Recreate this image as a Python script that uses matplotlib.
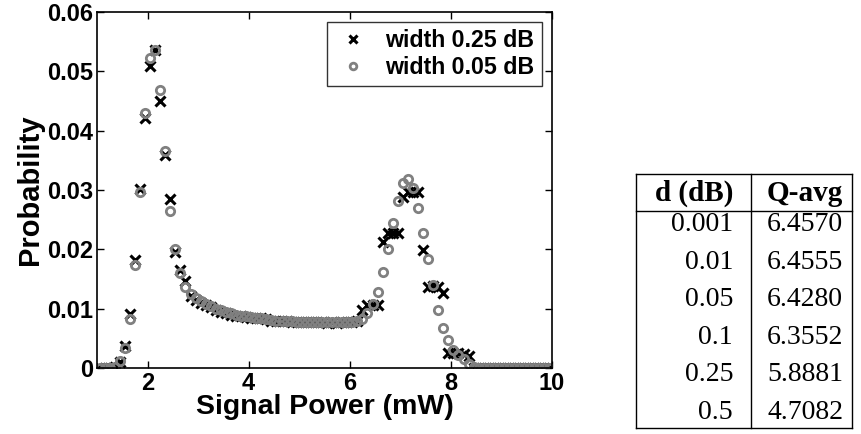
import matplotlib
matplotlib.use('Agg')
import matplotlib.pyplot as plt

# bin centres (mW)
power = [1.05, 1.15, 1.25, 1.35, 1.45, 1.55, 1.65, 1.75, 1.85, 1.95,
         2.05, 2.15, 2.25, 2.35, 2.45, 2.55, 2.65, 2.75, 2.85, 2.95,
         3.05, 3.15, 3.25, 3.35, 3.45, 3.55, 3.65, 3.75, 3.85, 3.95,
         4.05, 4.15, 4.25, 4.35, 4.45, 4.55, 4.65, 4.75, 4.85, 4.95,
         5.05, 5.15, 5.25, 5.35, 5.45, 5.55, 5.65, 5.75, 5.85, 5.95,
         6.05, 6.15, 6.25, 6.35, 6.45, 6.55, 6.65, 6.75, 6.85, 6.95,
         7.05, 7.15, 7.25, 7.35, 7.45, 7.55, 7.65, 7.75, 7.85, 7.95,
         8.05, 8.15, 8.25, 8.35, 8.45, 8.55, 8.65, 8.75, 8.85, 8.95,
         9.05, 9.15, 9.25, 9.35, 9.45, 9.55, 9.65, 9.75, 9.85, 9.95]

# width 0.25 dB
prob_wide = [0.0, 0.0, 0.0, 0.0002, 0.0010, 0.0037, 0.0091, 0.0182, 0.0301, 0.0421,
             0.0509, 0.0536, 0.0450, 0.0359, 0.0284, 0.0195, 0.0165, 0.0146, 0.0121, 0.0115,
             0.0110, 0.0106, 0.0102, 0.0098, 0.0095, 0.0092, 0.0090, 0.0088, 0.0087, 0.0086,
             0.0085, 0.0085, 0.0084, 0.0082, 0.0080, 0.0080, 0.0079, 0.0079, 0.0078, 0.0077,
             0.0077, 0.0077, 0.0077, 0.0077, 0.0077, 0.0076, 0.0077, 0.0076, 0.0077, 0.0077,
             0.0078, 0.0079, 0.0098, 0.0107, 0.0107, 0.0107, 0.0213, 0.0227, 0.0227, 0.0227,
             0.0289, 0.0297, 0.0297, 0.0297, 0.0199, 0.0137, 0.0138, 0.0137, 0.0127, 0.0025,
             0.0025, 0.0025, 0.0024, 0.0020, 0.0, 0.0, 0.0, 0.0, 0.0, 0.0,
             0.0, 0.0, 0.0, 0.0, 0.0, 0.0, 0.0, 0.0, 0.0, 0.0]

# width 0.05 dB
prob_narrow = [0.0, 0.0, 0.0, 0.0002, 0.0011, 0.0033, 0.0082, 0.0174, 0.0297, 0.0429,
               0.0522, 0.0536, 0.0468, 0.0366, 0.0265, 0.0200, 0.0160, 0.0136, 0.0125, 0.0118,
               0.0113, 0.0108, 0.0104, 0.0100, 0.0097, 0.0094, 0.0092, 0.0090, 0.0088, 0.0087,
               0.0086, 0.0085, 0.0084, 0.0083, 0.0081, 0.0080, 0.0080, 0.0079, 0.0079, 0.0078,
               0.0078, 0.0077, 0.0077, 0.0077, 0.0077, 0.0077, 0.0077, 0.0077, 0.0077, 0.0077,
               0.0078, 0.0079, 0.0082, 0.0092, 0.0108, 0.0128, 0.0161, 0.0201, 0.0245, 0.0281,
               0.0312, 0.0319, 0.0304, 0.0270, 0.0228, 0.0183, 0.0140, 0.0098, 0.0068, 0.0047,
               0.0030, 0.0022, 0.0015, 0.0006, 0.0001, 0.0, 0.0, 0.0, 0.0, 0.0,
               0.0, 0.0, 0.0, 0.0, 0.0, 0.0, 0.0, 0.0, 0.0, 0.0]

x_ticks = [2, 4, 6, 8, 10]
y_ticks = [0, 0.01, 0.02, 0.03, 0.04, 0.05, 0.06]
y_labels = ['0', '0.01', '0.02', '0.03', '0.04', '0.05', '0.06']

# table next to the plot
table_header = ['d (dB)', 'Q-avg']
d_values = ['0.001', '0.01', '0.05', '0.1', '0.25', '0.5']
q_avg = ['6.4570', '6.4555', '6.4280', '6.3552', '5.8881', '4.7082']

plt.rcParams['font.family'] = ['Liberation Sans', 'DejaVu Sans']
plt.rcParams['font.weight'] = 'bold'

fig = plt.figure(figsize=(8.61, 4.34), dpi=100)
W, H = 861.0, 434.0
ax = fig.add_axes([97 / W, 1 - 368 / H, (552 - 97) / W, (368 - 12) / H])

ax.plot(power, prob_wide, linestyle='none', marker='x', color='black',
        markersize=7, markeredgewidth=2.2, label='width 0.25 dB')
ax.plot(power, prob_narrow, linestyle='none', marker='o', markerfacecolor='none',
        markeredgecolor='#808080', markersize=6, markeredgewidth=2.0,
        label='width 0.05 dB')

ax.set_xlim(1, 10)
ax.set_ylim(0, 0.06)
ax.set_xticks(x_ticks)
ax.set_xticklabels([str(t) for t in x_ticks])
ax.set_yticks(y_ticks)
ax.set_yticklabels(y_labels)
ax.tick_params(direction='in', top=True, right=True, length=5, width=1,
               labelsize=17, pad=3)
for lab in ax.get_xticklabels() + ax.get_yticklabels():
    lab.set_fontweight('bold')
for s in ax.spines.values():
    s.set_linewidth(1.2)

ax.set_xlabel('Signal Power (mW)', fontsize=20.5, fontweight='bold', labelpad=-1)
ax.set_ylabel('Probability', fontsize=21, fontweight='bold', labelpad=2)

leg = ax.legend(loc='upper right', frameon=True, fancybox=False,
                edgecolor='black', borderpad=0.3, handletextpad=0.6,
                handlelength=1.6, labelspacing=0.15, markerscale=0.8,
                borderaxespad=0.45, prop={'weight': 'bold', 'size': 16.7})
leg.get_frame().set_linewidth(1.0)

# table drawn in figure pixel coordinates
tx = fig.add_axes([0, 0, 1, 1], facecolor='none')
tx.set_xlim(0, W)
tx.set_ylim(H, 0)
tx.axis('off')

left, mid, right = 636, 751, 852
top, head_line, bottom = 174, 211, 428
for yy in (top, head_line, bottom):
    tx.plot([left, right], [yy, yy], color='black', lw=1.0)
for xx in (left, mid, right):
    tx.plot([xx, xx], [top, bottom], color='black', lw=1.0)

serif = ['Liberation Serif', 'DejaVu Serif']
tx.text(733, 201, table_header[0], ha='right', va='baseline', fontsize=21,
        fontweight='bold', family=serif)
tx.text(767, 201, table_header[1], ha='left', va='baseline', fontsize=21,
        fontweight='bold', family=serif)
row_h = 37.6
for i, (d, q) in enumerate(zip(d_values, q_avg)):
    base = 231 + row_h * i
    tx.text(733, base, d, ha='right', va='baseline', fontsize=20,
            fontweight='normal', family=serif)
    tx.text(767, base, q, ha='left', va='baseline', fontsize=20,
            fontweight='normal', family=serif)

fig.savefig('out.png', dpi=100)
